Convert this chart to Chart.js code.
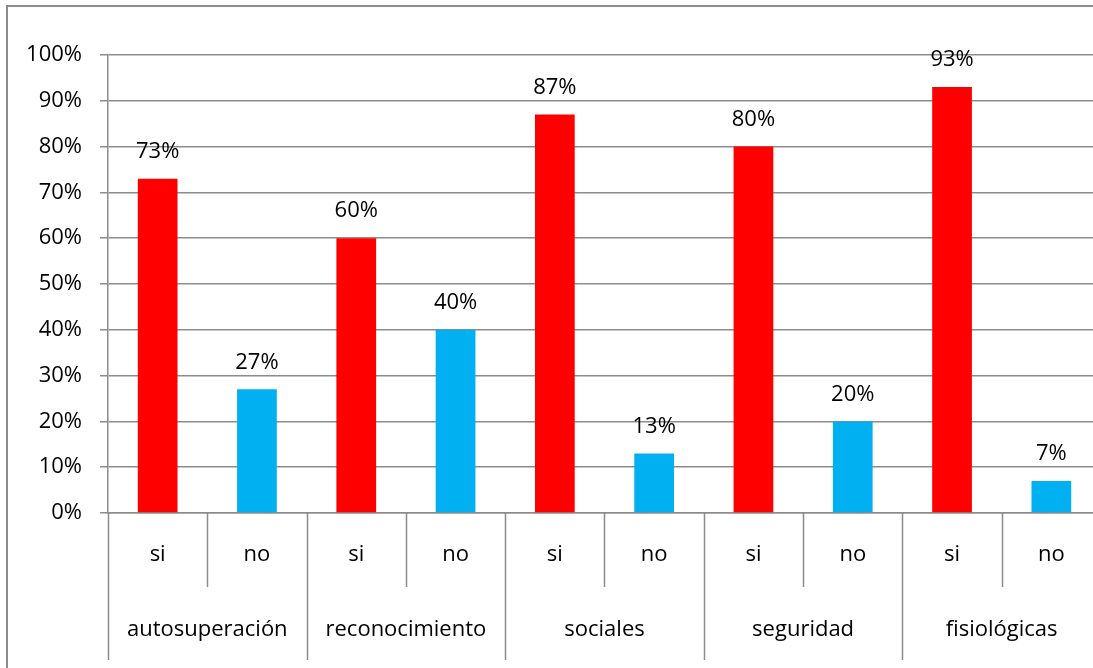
<!DOCTYPE html>
<html>
<head>
<meta charset="utf-8">
<script src="https://cdn.jsdelivr.net/npm/chart.js@4.4.0/dist/chart.umd.min.js"></script>
<style>
  html, body { margin: 0; padding: 0; background: #fff; overflow: hidden; width: 1093px; height: 668px; }
  #wrap { width: 1093px; height: 668px; overflow: hidden; position: relative; }
  #chart { position: absolute; left: 0; top: 0; }
</style>
</head>
<body>
<div id="wrap"><canvas id="chart" width="1110" height="668"></canvas></div>
<script>
// categories
const groups = ["autosuperación", "reconocimiento", "sociales", "seguridad", "fisiológicas"];
const answers = ["si", "no"];
// values in percent
const siValues = [73, 60, 87, 80, 93];
const noValues = [27, 40, 13, 20, 7];
// y ticks
const yMin = 0;
const yMax = 100;
const yStep = 10;

const siColor = "#ff0000";
const noColor = "#00b0f0";
const gridColor = "#8c8c8c";
const font = "'Open Sans', 'Liberation Sans', sans-serif";

// flatten into one row per bar
const labels = [];
const values = [];
const colors = [];
groups.forEach((g, i) => {
  labels.push(g + " si");
  values.push(siValues[i]);
  colors.push(siColor);
  labels.push(g + " no");
  values.push(noValues[i]);
  colors.push(noColor);
});

//draws value labels, frame and the two-level category axis
const extras = {
  id: "extras",
  afterDatasetsDraw(chart) {
    const ctx = chart.ctx;
    const meta = chart.getDatasetMeta(0);
    ctx.save();
    ctx.fillStyle = "#000";
    ctx.font = "22px " + font;
    ctx.textAlign = "center";
    ctx.textBaseline = "middle";
    meta.data.forEach((bar, i) => {
      ctx.fillText(values[i] + "%", bar.x, bar.y - 27);
    });
    ctx.restore();
  },
  afterDraw(chart) {
    const ctx = chart.ctx;
    const x = chart.scales.x;
    const area = chart.chartArea;
    const half = (x.getPixelForValue(1) - x.getPixelForValue(0)) / 2;
    ctx.save();
    // outer frame
    ctx.strokeStyle = gridColor;
    ctx.lineWidth = 2;
    ctx.beginPath();
    ctx.moveTo(7, chart.height);
    ctx.lineTo(7, 6);
    ctx.lineTo(chart.width, 6);
    ctx.stroke();
    // separators under the axis
    ctx.lineWidth = 1.5;
    ctx.beginPath();
    for (let k = 0; k <= labels.length; k++) {
      const px = Math.round(x.getPixelForValue(0) - half + k * 2 * half) + 0.5;
      ctx.moveTo(px, area.bottom);
      ctx.lineTo(px, k % 2 === 0 ? 660 : 587);
    }
    ctx.stroke();
    // labels
    ctx.fillStyle = "#000";
    ctx.font = "22px " + font;
    ctx.textAlign = "center";
    ctx.textBaseline = "middle";
    labels.forEach((l, i) => {
      ctx.fillText(answers[i % 2], x.getPixelForValue(i), 555);
    });
    groups.forEach((g, i) => {
      ctx.fillText(g, x.getPixelForValue(i * 2) + half, 630);
    });
    ctx.restore();
  }
};

new Chart(document.getElementById("chart"), {
  type: "bar",
  plugins: [extras],
  data: {
    labels: labels,
    datasets: [{
      data: values,
      backgroundColor: colors,
      barPercentage: 0.4,
      categoryPercentage: 1.0
    }]
  },
  options: {
    responsive: false,
    animation: false,
    layout: { padding: { top: 55, right: 9, left: 0, bottom: 0 } },
    plugins: {
      legend: { display: false },
      tooltip: { enabled: false }
    },
    scales: {
      x: {
        ticks: { display: false },
        grid: { display: false },
        border: { display: true, color: gridColor, width: 1.5 },
        afterFit: (scale) => { scale.height = 155; }
      },
      y: {
        min: yMin,
        max: yMax,
        ticks: {
          stepSize: yStep,
          padding: 18,
          color: "#000",
          font: { family: font, size: 22 },
          callback: (v) => v + "%"
        },
        grid: { color: gridColor, lineWidth: 1.5, tickLength: 8 },
        border: { color: gridColor, width: 1.5 },
        afterFit: (scale) => { scale.width = 108; }
      }
    }
  }
});
</script>
</body>
</html>
